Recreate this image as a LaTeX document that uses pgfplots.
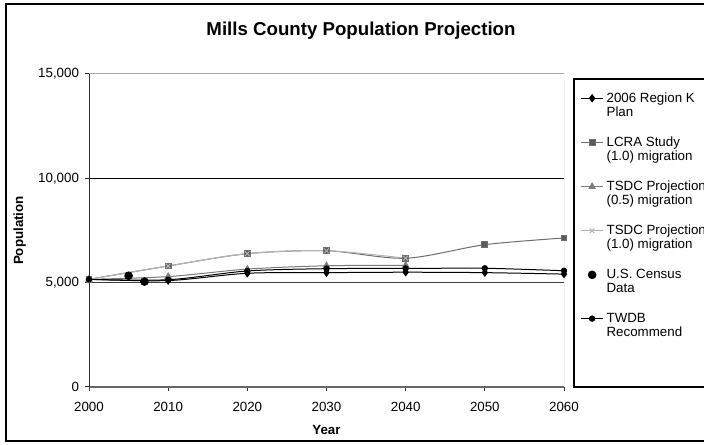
\documentclass[border=0pt]{standalone}
\usepackage{pgfplots}
\pgfplotsset{compat=1.18}
\usepackage{fontspec}
\setmainfont{Liberation Sans}
\usetikzlibrary{plotmarks}
\definecolor{lcraline}{HTML}{6E6E6E}
\definecolor{lcramark}{HTML}{5A5A5A}
\definecolor{tsdcA}{HTML}{7A7A7A}
\definecolor{tsdcB}{HTML}{B4B4B4}
\newcommand{\legtxt}[1]{\parbox[t]{110pt}{\raggedright #1}}
\begin{document}
\begin{tikzpicture}
\useasboundingbox (0,0) rectangle (528pt,333.75pt);
\clip (0,0) rectangle (528pt,333.75pt);
\begin{scope}[x=0.75pt,y=0.75pt]
\fill[white] (0,0) rectangle (704,445);
\draw[black, line width=1pt] (6,4) rectangle (740,441);
\draw[black, line width=0.9pt] (574,58) rectangle (740,366);
\node[font=\bfseries\fontsize{14}{16}\selectfont] at (361,414) {Mills County Population Projection};
\end{scope}
\begin{axis}[
  at={(66.75pt,43.5pt)}, anchor=south west, scale only axis,
  width=356.25pt, height=234.75pt,
  xmin=2000, xmax=2060, ymin=0, ymax=15000,
  axis x line*=bottom, axis y line*=left,
  x axis line style={draw=black!60, line width=1.5pt},
  y axis line style={draw=black!80, line width=0.75pt},
  xtick={2000,2010,2020,2030,2040,2050,2060},
  ytick={0,5000,10000,15000},
  scaled y ticks=false,
  tick align=outside, major tick length=3pt,
  every tick/.style={black!80, line width=0.75pt},
  ticklabel style={font=\fontsize{10}{12}\selectfont},
  /pgf/number format/assume math mode=true,
  yticklabel style={/pgf/number format/1000 sep={,}, xshift=-1pt},
  xticklabel style={/pgf/number format/1000 sep={}, yshift=-4.5pt},
  xlabel={Year}, ylabel={Population},
  label style={font=\bfseries\fontsize{10}{12}\selectfont},
  xlabel style={at={(axis description cs:0.5,-0.137)}, anchor=center},
  ylabel style={at={(axis description cs:-0.146,0.5)}, anchor=center},
  legend image code/.code={\draw[mark repeat=2,mark phase=2,#1] plot coordinates {(0pt,0pt) (8.5pt,0pt) (17pt,0pt)};},
  legend style={at={(axis description cs:1.0337,0.942)}, anchor=north west,
    draw=none, fill=none, inner sep=0pt, row sep=24.4pt, column sep=2pt,
    font=\fontsize{10}{10.5}\selectfont,
    cells={anchor=base west},
    nodes={inner sep=0pt}},
  legend cell align=left,
]
\draw[black!75, line width=0.75pt] (axis cs:2000,5000) -- (axis cs:2060,5000);
\draw[black, line width=0.75pt] (axis cs:2000,10000) -- (axis cs:2060,10000);
\draw[black!35, line width=0.75pt] (rel axis cs:0,1) -- (rel axis cs:1,1) -- (rel axis cs:1,0);

\addplot[black, line width=0.75pt, smooth, mark=diamond*, mark size=2.6pt, mark options={fill=black, draw=black}]
  coordinates {(2000,5160) (2010,5100) (2020,5450) (2030,5480) (2040,5500) (2050,5480) (2060,5410)};
\addlegendentry{\legtxt{2006 Region K\\Plan}}

\addplot[lcraline, line width=0.75pt, smooth, mark=square*, mark size=2.2pt, mark options={fill=lcramark, draw=lcraline}]
  coordinates {(2000,5160) (2010,5800) (2020,6390) (2030,6530) (2040,6170) (2050,6820) (2060,7140)};
\addlegendentry{\legtxt{LCRA Study\\(1.0) migration}}

\addplot[tsdcA, line width=0.75pt, smooth, mark=triangle*, mark size=2.6pt, mark options={fill=tsdcA, draw=tsdcA}]
  coordinates {(2000,5160) (2010,5290) (2020,5650) (2030,5810) (2040,5830)};
\addlegendentry{\legtxt{TSDC Projection\\(0.5) migration}}

\addplot[tsdcB, line width=0.75pt, smooth, mark=x, mark size=2.4pt, mark options={draw=tsdcB}]
  coordinates {(2000,5160) (2010,5800) (2020,6390) (2030,6530) (2040,6170)};
\addlegendentry{\legtxt{TSDC Projection\\(1.0) migration}}

\addplot[only marks, black, mark=*, mark size=3pt, mark options={fill=black}]
  coordinates {(2005,5330) (2007,5050)};
\addlegendentry{\legtxt{U.S. Census\\Data}}

\addplot[black, line width=0.75pt, smooth, mark=*, mark size=2pt, mark options={fill=black}]
  coordinates {(2000,5160) (2010,5140) (2020,5560) (2030,5670) (2040,5680) (2050,5690) (2060,5570)};
\addlegendentry{\legtxt{TWDB\\Recommend}}
\end{axis}
\end{tikzpicture}
\end{document}
